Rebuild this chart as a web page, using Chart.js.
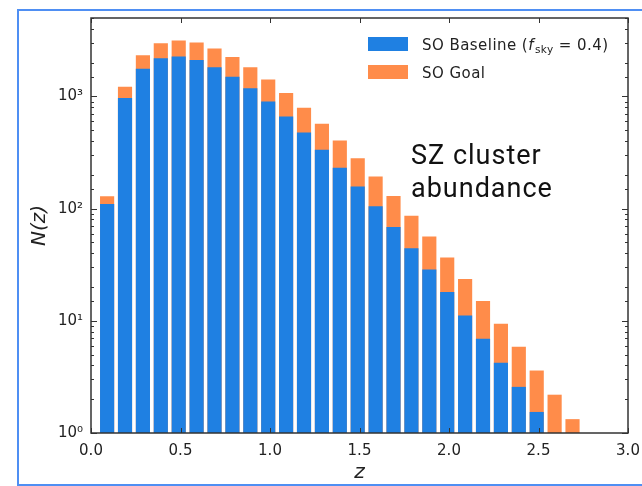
<!DOCTYPE html>
<html>
<head>
<meta charset="utf-8">
<script src="https://cdn.jsdelivr.net/npm/chart.js@4.4.1/dist/chart.umd.min.js"></script>
<style>
  html, body { margin: 0; padding: 0; background: #fff; }
  #wrap  { position: relative; width: 642px; height: 486px; overflow: hidden; }
  #frame { position: absolute; left: 17px; top: 9px; width: 640px; height: 473px;
           border: 2px solid #4f8ff3; border-right: none; pointer-events: none; }
  canvas { position: absolute; left: 0; top: 0; }
</style>
</head>
<body>
<div id="wrap">
  <canvas id="chart" width="642" height="486"></canvas>
  <div id="frame"></div>
</div>
<script>
// lower edge of each redshift bin
const zBins = [0.05, 0.15, 0.25, 0.35, 0.45, 0.55, 0.65, 0.75, 0.85, 0.95,
               1.05, 1.15, 1.25, 1.35, 1.45, 1.55, 1.65, 1.75, 1.85, 1.95,
               2.05, 2.15, 2.25, 2.35, 2.45, 2.55, 2.65];

const baselineCounts = [109, 960, 1757, 2172, 2248, 2096, 1804, 1490, 1172, 897,
                        659, 474, 332, 230, 156, 104, 68, 44, 28.4, 17.9,
                        11.1, 6.87, 4.19, 2.56, 1.53, null, null];

const goalCounts = [128, 1213, 2307, 2953, 3123, 2998, 2650, 2230, 1804, 1409,
                    1064, 787, 567, 402, 279, 192, 129, 86, 56, 36.5,
                    23.4, 14.9, 9.35, 5.82, 3.58, 2.18, 1.32];

const seriesNames = ["SO Baseline", "SO Goal"];
const fSky        = "0.4";
const xTicks      = [0, 0.5, 1, 1.5, 2, 2.5, 3];
const yDecades    = [1, 10, 100, 1000];
const noteLines   = ["SZ cluster", "abundance"];

const BLUE   = "#1f80e2";
const ORANGE = "#ff8c4a";
const AXIS   = "#333333";
const TEXT   = "#222222";
const MPL    = "'DejaVu Sans', sans-serif";
const BAR_SHIFT = 0.04;   // bars drawn from bin edge, 0.08 wide

const SUP = ["\u2070", "\u00b9", "\u00b2", "\u00b3"];
const isDecade = v => Math.abs(Math.log10(v) - Math.round(Math.log10(v))) < 1e-9;

const toPoints = vals => zBins.map((z, i) => ({ x: z + BAR_SHIFT, y: vals[i] }));

const axesPlugin = {
  id: "axes",
  afterDatasetsDraw(chart) {
    const { ctx, chartArea: a, scales: { x, y } } = chart;
    ctx.save();
    ctx.strokeStyle = AXIS;
    ctx.lineWidth = 1;
    ctx.beginPath();
    x.ticks.forEach(t => {
      const px = Math.round(x.getPixelForValue(t.value)) + 0.5;
      ctx.moveTo(px, a.bottom); ctx.lineTo(px, a.bottom - 5);
      ctx.moveTo(px, a.top);    ctx.lineTo(px, a.top + 5);
    });
    y.ticks.forEach(t => {
      const py = Math.round(y.getPixelForValue(t.value)) + 0.5;
      const len = isDecade(t.value) ? 6 : 3;
      ctx.moveTo(a.left, py);  ctx.lineTo(a.left + len, py);
      ctx.moveTo(a.right, py); ctx.lineTo(a.right - len, py);
    });
    ctx.stroke();
    ctx.lineWidth = 1.5;
    ctx.strokeRect(a.left, a.top, a.width, a.height);
    ctx.restore();
  },
};

const legendPlugin = {
  id: "innerLegend",
  afterDraw(chart) {
    const { ctx } = chart;
    const rows = [44, 72];
    ctx.save();
    ctx.textBaseline = "alphabetic";
    ctx.letterSpacing = "0.45px";
    chart.data.datasets.forEach((ds, i) => {
      const cy = rows[i];
      ctx.fillStyle = ds.backgroundColor;
      ctx.fillRect(368, cy - 7, 40, 14);
      ctx.fillStyle = TEXT;
      let tx = 422;
      const by = cy + 5.5;
      const put = (s, font, dy = 0) => {
        ctx.font = font;
        ctx.fillText(s, tx, by + dy);
        tx += ctx.measureText(s).width;
      };
      if (i === 0) {
        put(ds.label + " (", `15px ${MPL}`);
        put("f", `italic 15px ${MPL}`);
        tx += 1;
        put("sky", `10.5px ${MPL}`, 3.5);
        put(" = " + fSky + ")", `15px ${MPL}`);
      } else {
        put(ds.label, `15px ${MPL}`);
      }
    });
    ctx.restore();
  },
};

const notePlugin = {
  id: "note",
  afterDraw(chart) {
    const { ctx } = chart;
    ctx.save();
    ctx.fillStyle = "#111";
    ctx.font = "27px Roboto, sans-serif";
    ctx.letterSpacing = "1px";
    ctx.textBaseline = "alphabetic";
    noteLines.forEach((s, i) => ctx.fillText(s, 411, 164 + i * 33));
    ctx.restore();
  },
};

new Chart(document.getElementById("chart"), {
  type: "bar",
  data: {
    datasets: [
      { label: seriesNames[0], data: toPoints(baselineCounts), backgroundColor: BLUE,
        grouped: false, barThickness: 13.5 },
      { label: seriesNames[1], data: toPoints(goalCounts), backgroundColor: ORANGE,
        grouped: false, barThickness: 13.5 },
    ],
  },
  options: {
    responsive: false,
    animation: false,
    layout: { padding: { top: 18, right: 14, left: 0, bottom: 0 } },
    plugins: { legend: { display: false }, tooltip: { enabled: false } },
    scales: {
      x: {
        type: "linear",
        min: 0,
        max: 3,
        offset: false,
        grid: { display: false, drawTicks: false },
        border: { display: false },
        afterBuildTicks: s => { s.ticks = xTicks.map(v => ({ value: v })); },
        ticks: {
          callback: v => v.toFixed(1),
          color: TEXT,
          font: { family: MPL, size: 15 },
          padding: 9,
          maxRotation: 0,
          autoSkip: false,
        },
        title: {
          display: true,
          text: "z",
          color: TEXT,
          font: { family: MPL, size: 20, style: "italic" },
          padding: { top: 0, bottom: 1 },
        },
        afterFit: s => { s.height = 53; s.paddingLeft = 0; s.paddingRight = 0; },
      },
      y: {
        type: "logarithmic",
        min: 1,
        max: 5000,
        grid: { display: false, drawTicks: false },
        border: { display: false },
        ticks: {
          autoSkip: false,
          callback: v => (isDecade(v) && yDecades.includes(Math.round(v)))
            ? "10" + SUP[Math.round(Math.log10(v))] : "",
          color: TEXT,
          font: { family: MPL, size: 15 },
          padding: 8,
        },
        title: {
          display: true,
          text: "N(z)",
          color: TEXT,
          font: { family: MPL, size: 20, style: "italic" },
          padding: { top: 28, bottom: 0 },
        },
        afterFit: s => { s.width = 91; s.paddingTop = 0; s.paddingBottom = 0; },
      },
    },
  },
  plugins: [axesPlugin, legendPlugin, notePlugin],
});
</script>
</body>
</html>
